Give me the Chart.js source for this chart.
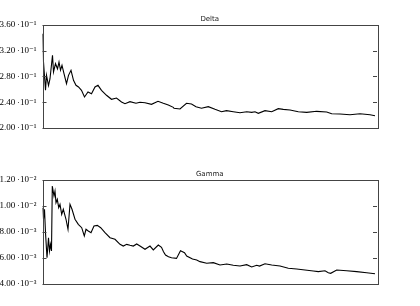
<!DOCTYPE html>
<html>
<head>
<meta charset="utf-8">
<script src="https://cdn.jsdelivr.net/npm/chart.js@4/dist/chart.umd.min.js"></script>
<style>
html,body{margin:0;padding:0;background:#fff;}
#wrap{position:relative;width:420px;height:306px;}
.c{position:absolute;left:0;width:420px;height:153px;}
</style>
</head>
<body>
<div id="wrap">
<div class="c" style="top:0"><canvas id="c1" width="420" height="153"></canvas></div>
<div class="c" style="top:153px"><canvas id="c2" width="420" height="153"></canvas></div>
</div>
<script>
// ---- Delta series ----
const deltaX = [0,1,3,4,6,7.5,10,11,13,15,16.5,18,19.5,21.5,24,26,28.5,31,33.5,36,39,42,45.5,49,52.5,55.5,59,64,69,74,79,82.5,87.5,93.5,97.5,102.5,109,115.5,120.8,125.8,130.8,131.5,137.5,144,149,153.5,159,165.8,172.5,179,184,190.8,197.5,204.2,209.2,212.5,215.8,222.5,229.2,235.8,240.8,247.5,255.8,264.2,274.2,284.2,289.2,297.5,307.5,317.5,327.5,332.5];
const deltaY = [0.3465,0.3025,0.2586,0.282,0.266,0.2766,0.313,0.287,0.2999,0.292,0.3025,0.2897,0.2974,0.2844,0.2688,0.2818,0.2896,0.274,0.2663,0.2637,0.2586,0.2482,0.256,0.2533,0.2637,0.2663,0.2586,0.2508,0.2446,0.2466,0.2404,0.2378,0.2409,0.2384,0.2399,0.2393,0.2368,0.2415,0.2384,0.2357,0.2321,0.2306,0.2295,0.2384,0.2373,0.2331,0.2306,0.2331,0.229,0.2253,0.2269,0.2253,0.2238,0.2253,0.2243,0.2253,0.2228,0.2269,0.2253,0.23,0.229,0.2279,0.2253,0.2243,0.2259,0.2248,0.2222,0.2217,0.2207,0.2222,0.2207,0.2191,0.2176,0.216,0.2155];
// ---- Gamma series ----
const gammaX = [0,1,2,3,4.5,6,7,8,9,9.8,11.5,12.5,13.5,14.8,16.2,17.5,19.2,20.8,23.5,25.5,27.5,29.5,32.5,35.8,39.2,41.8,43.5,45.8,48.5,51.5,54.8,58.2,62.5,67.5,72.5,77.5,80.8,84.2,87.5,90.8,94.2,97.5,102.5,107.5,110.8,115.8,119,121,123,126,129,134,138,142,144.2,150,154.2,157.5,164.2,170.8,177.5,184.2,190.8,197.5,204.2,209.2,214.2,217,222.5,229.2,237.5,245.8,254.2,262.5,270.8,275.8,282.5,285.8,288.2,294.2,304.2,314.2,324.2,332.5];
const gammaY = [0.00987,0.00898,0.00975,0.00795,0.00602,0.00756,0.00654,0.00705,0.00654,0.01154,0.01077,0.01115,0.01025,0.01051,0.00987,0.01013,0.00936,0.00975,0.00898,0.00821,0.01013,0.00975,0.00898,0.00859,0.00833,0.00769,0.00821,0.00808,0.00795,0.00846,0.00851,0.00833,0.00795,0.00756,0.00744,0.00705,0.00692,0.00705,0.00698,0.00692,0.00708,0.00692,0.00667,0.00692,0.00662,0.007,0.00682,0.00648,0.00623,0.0061,0.00602,0.00597,0.00656,0.00641,0.00615,0.00592,0.00585,0.00572,0.0056,0.00564,0.00546,0.00554,0.00544,0.00538,0.00549,0.00531,0.00544,0.00538,0.00556,0.00546,0.00538,0.00521,0.00515,0.00508,0.005,0.00495,0.00502,0.00487,0.00482,0.00508,0.00502,0.00495,0.00487,0.00479,0.00474];
// ---- tick values and labels ----
const deltaTicks = [0.20,0.24,0.28,0.32,0.36];
const deltaTickLabels = ["2.00\u2009\u00b710\u207b\u00b9","2.40\u2009\u00b710\u207b\u00b9","2.80\u2009\u00b710\u207b\u00b9","3.20\u2009\u00b710\u207b\u00b9","3.60\u2009\u00b710\u207b\u00b9"];
const gammaTicks = [0.004,0.006,0.008,0.010,0.012];
const gammaTickLabels = ["4.00\u2009\u00b710\u207b\u00b3","6.00\u2009\u00b710\u207b\u00b3","8.00\u2009\u00b710\u207b\u00b3","1.00\u2009\u00b710\u207b\u00b2","1.20\u2009\u00b710\u207b\u00b2"];
const titles = ["Delta","Gamma"];

const framePlugin = {
  id:'frame',
  afterDraw(chart, args, opts){
    const ctx = chart.ctx, a = chart.chartArea, ys = chart.scales.y;
    ctx.save();
    ctx.strokeStyle = '#444';
    ctx.lineWidth = 1;
    ctx.strokeRect(Math.round(a.left)+0.5, Math.round(a.top)+0.5, Math.round(a.right-a.left), Math.round(a.bottom-a.top));
    ctx.beginPath();
    ys.ticks.forEach(t=>{
      const y = Math.round(ys.getPixelForValue(t.value))+0.5;
      ctx.moveTo(a.left, y); ctx.lineTo(a.left+4, y);
      ctx.moveTo(a.right, y); ctx.lineTo(a.right-4, y);
    });
    ctx.stroke();
    ctx.fillStyle = '#222';
    ctx.font = '7px "DejaVu Sans"';
    ctx.textAlign = 'center';
    ctx.textBaseline = 'bottom';
    ctx.fillText(opts.text, (a.left+a.right)/2, a.top - 2);
    ctx.restore();
  }
};

function makeChart(id, xs, ys, ticks, labels, title, padTop, padBottom){
  const pts = xs.map((x,i)=>({x:x, y:ys[i]}));
  return new Chart(document.getElementById(id), {
    type:'line',
    data:{datasets:[{data:pts, borderColor:'#000', borderWidth:1.1, pointRadius:0, tension:0, fill:false}]},
    options:{
      responsive:false, animation:false,
      layout:{padding:{top:padTop, bottom:padBottom, left:0, right:43}},
      plugins:{legend:{display:false}, tooltip:{enabled:false}, title:{display:false}, frame:{text:title}},
      scales:{
        x:{type:'linear', min:0, max:334.5, display:false},
        y:{min:ticks[0], max:ticks[ticks.length-1],
           afterBuildTicks(s){ s.ticks = ticks.map(v=>({value:v})); },
           afterFit(s){ s.width = 42.5; },
           grid:{display:false, drawTicks:false},
           border:{display:false},
           ticks:{padding:6, color:'#000', font:{family:'"Liberation Serif", "DejaVu Serif", serif', size:9},
                  callback(v){ const i = ticks.findIndex(t=>Math.abs(t-v)<1e-9); return i>=0?labels[i]:''; }}
        }
      }
    },
    plugins:[framePlugin]
  });
}
makeChart('c1', deltaX, deltaY, deltaTicks, deltaTickLabels, titles[0], 25, 25);
makeChart('c2', gammaX, gammaY, gammaTicks, gammaTickLabels, titles[1], 27, 22);
</script>
</body>
</html>
